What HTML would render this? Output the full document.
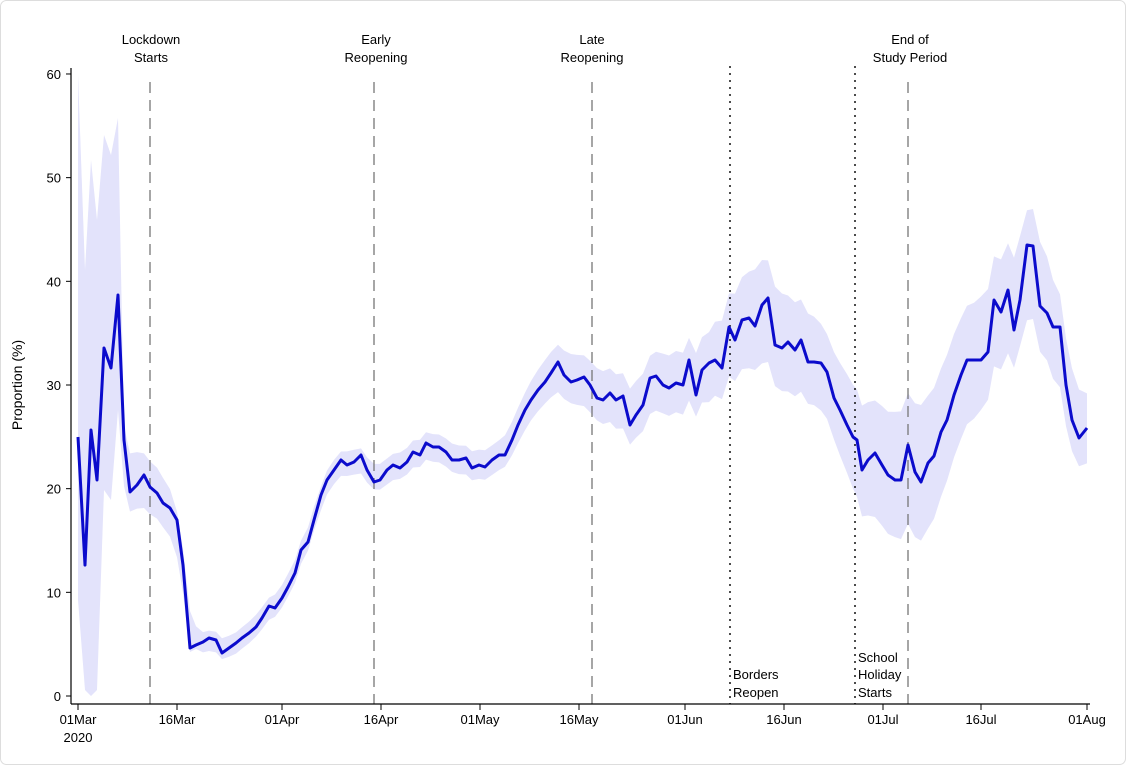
<!DOCTYPE html>
<html><head><meta charset="utf-8"><style>
body{margin:0;background:#fff}
svg{display:block;font-family:"Liberation Sans",Arial,sans-serif}
</style></head><body>
<svg id="s" width="1126" height="765" viewBox="0 0 1126 765">
<rect x="0.5" y="0.5" width="1125" height="764" rx="6" fill="#fff" stroke="#ddd"/>
<polygon id="band" fill="#e3e3fb" stroke="none"/>
<g stroke="#777" stroke-width="1.3" stroke-dasharray="11,7">
<line x1="150" y1="82" x2="150" y2="704"/><line x1="374" y1="82" x2="374" y2="704"/>
<line x1="592" y1="82" x2="592" y2="704"/><line x1="908" y1="82" x2="908" y2="704"/>
</g>
<g stroke="#111" stroke-width="1.5" stroke-dasharray="2,5">
<line x1="730" y1="66" x2="730" y2="704"/><line x1="855" y1="66" x2="855" y2="704"/>
</g>
<polyline id="ln" fill="none" stroke="#0b0bcc" stroke-width="3" stroke-linejoin="round"/>
<g stroke="#000" stroke-width="1.2">
<line x1="71" y1="68" x2="71" y2="704"/><line x1="71" y1="704" x2="1090" y2="704"/>
</g>
<g id="ax" font-size="13" fill="#000"></g>
<g font-size="13" text-anchor="middle">
<text x="151" y="44">Lockdown</text><text x="151" y="62">Starts</text>
<text x="376" y="44">Early</text><text x="376" y="62">Reopening</text>
<text x="592" y="44">Late</text><text x="592" y="62">Reopening</text>
<text x="910" y="44">End of</text><text x="910" y="62">Study Period</text>
</g>
<g font-size="13">
<text x="733" y="679">Borders</text><text x="733" y="697">Reopen</text>
<text x="858" y="662">School</text><text x="858" y="679">Holiday</text><text x="858" y="697">Starts</text>
</g>
<text font-size="14" transform="translate(22,385) rotate(-90)" text-anchor="middle">Proportion (%)</text>
</svg>
<script>
var P=[78,437,85,565,91,430,97,480,104,348,111,368,118,295,124,440,130,492,137,485,144,475,150,487,157,493,163,503,170,508,177,520,183,565,190,648,196,645,203,642,209,638,216,640,222,653,229,648,236,643,242,638,249,633,256,627,262,618,269,606,275,608,282,598,288,587,295,573,301,550,308,542,314,520,321,495,327,480,334,470,341,460,347,465,354,462,361,455,367,470,374,482,380,480,387,470,393,465,400,468,407,462,413,452,420,455,426,443,433,447,439,447,446,452,452,460,459,460,466,458,472,468,479,465,485,467,492,460,499,455,505,455,512,440,518,425,525,410,531,400,538,390,545,382,551,373,558,362,564,375,571,382,577,380,584,377,590,385,597,398,603,400,610,393,616,400,623,396,630,425,636,415,643,405,650,378,656,376,663,385,669,388,676,383,683,385,689,360,696,395,702,370,709,363,715,360,722,368,729,327,735,340,742,320,749,318,755,326,762,305,768,298,775,345,782,348,788,342,795,350,801,340,808,362,814,362,821,363,827,372,834,398,840,410,847,425,853,437,857,440,862,470,868,460,875,453,882,465,888,475,895,480,901,480,908,445,915,472,921,482,928,463,934,456,941,432,947,420,954,395,961,375,967,360,974,360,981,360,988,352,994,300,1001,312,1008,290,1014,330,1020,300,1027,245,1033,246,1040,306,1047,313,1053,327,1060,327,1066,385,1072,420,1079,438,1087,428];
var pts=[],up=[],lo=[];
var eu=[74,270,160,220,135,155,118],el=[600,690,696,690,490,500,410];
function w(x){var k=[[124,30],[183,22],[195,10],[330,12],[500,15],[560,24],[700,32],[760,52],[830,42],[860,55],[920,68],[990,55],[1040,55],[1087,35]];
for(var i=1;i<k.length;i++){if(x<=k[i][0]){var a=k[i-1],b=k[i];return a[1]+(b[1]-a[1])*(x-a[0])/(b[0]-a[0]);}}return 32;}
var n=P.length/2,Y=[];
for(var i=0;i<n;i++)Y.push(P[2*i+1]);
for(var i=0;i<n;i++){var x=P[2*i],y=P[2*i+1];pts.push(x+","+y);
 if(i<7){up.push(x+","+eu[i]);lo.unshift(x+","+el[i]);}
 else{var s=0,c=0;for(var j=Math.max(7,i-2);j<=Math.min(n-1,i+2);j++){s+=Y[j];c++;}var m=(s/c+y)/2;var ww=w(x);
 up.push(x+","+Math.min(y-4,m-ww));lo.unshift(x+","+Math.max(y+4,m+ww));}}
document.getElementById("ln").setAttribute("points",pts.join(" "));
document.getElementById("band").setAttribute("points",up.concat(lo).join(" "));
var ax=document.getElementById("ax"),h="";
for(var v=0;v<=60;v+=10){var yy=696-v*10.367;h+='<line x1="66" x2="71" y1="'+yy+'" y2="'+yy+'" stroke="#000"/><text x="61" y="'+(yy+5)+'" text-anchor="end">'+v+'</text>';}
var xl=[[78,"01Mar"],[177,"16Mar"],[282,"01Apr"],[381,"16Apr"],[480,"01May"],[579,"16May"],[685,"01Jun"],[784,"16Jun"],[883,"01Jul"],[981,"16Jul"],[1087,"01Aug"]];
xl.forEach(function(t){h+='<line x1="'+t[0]+'" x2="'+t[0]+'" y1="704" y2="710" stroke="#000"/><text x="'+t[0]+'" y="724" text-anchor="middle">'+t[1]+'</text>';});
h+='<text x="78" y="742" text-anchor="middle">2020</text>';
ax.innerHTML=h;
</script>
</body></html>
